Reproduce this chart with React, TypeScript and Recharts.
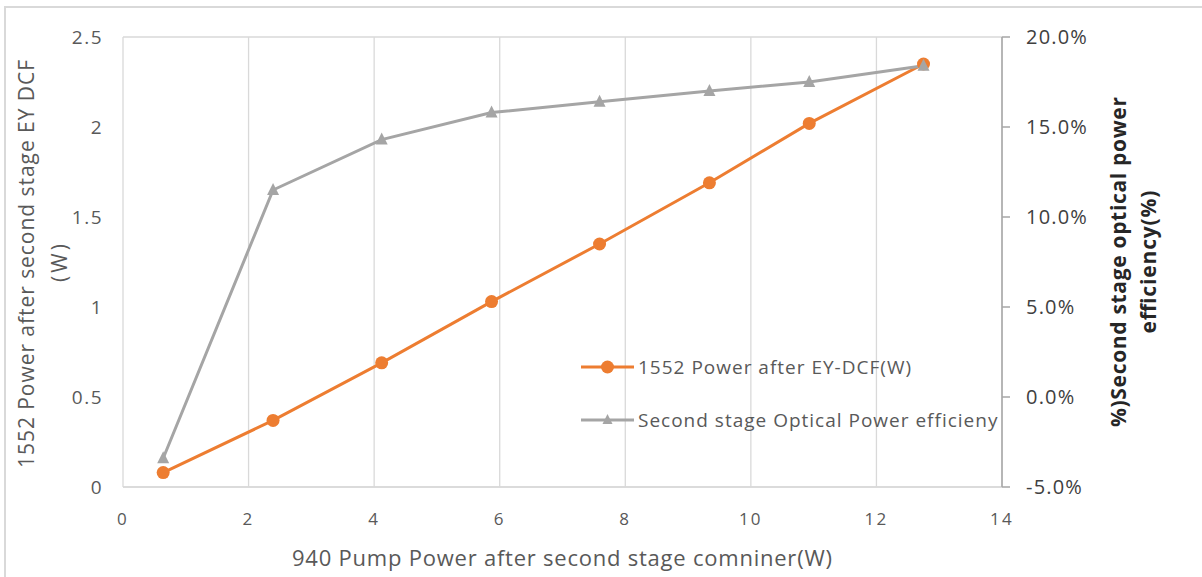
import { LineChart, Line, XAxis, YAxis, CartesianGrid, Legend, Label } from 'recharts';

// values
const pumpPower = [0.64, 2.39, 4.12, 5.87, 7.59, 9.34, 10.93, 12.75];
const outputPower = [0.08, 0.37, 0.69, 1.03, 1.35, 1.69, 2.02, 2.35];
const efficiency = [-3.4, 11.5, 14.3, 15.8, 16.4, 17.0, 17.5, 18.4];

const xTicks = [0, 2, 4, 6, 8, 10, 12, 14];
const leftTicks = [0, 0.5, 1, 1.5, 2, 2.5];
const rightTicks = [-5, 0, 5, 10, 15, 20];

const powerName = '1552 Power after EY-DCF(W)';
const effName = 'Second stage Optical Power efficieny';

const data = pumpPower.map((pump, i) => ({
  pump,
  power: outputPower[i],
  eff: efficiency[i],
}));

const FONT = '"Open Sans", Lato, sans-serif';
const ORANGE = '#ED7D31';
const GREY = '#A5A5A5';

const triangle = (cx: number, cy: number, s = 6) =>
  `M${cx},${cy - s - 1} L${cx + s},${cy + s - 1} L${cx - s},${cy + s - 1} Z`;

function TriangleDot(props: any) {
  const { cx, cy, index } = props;
  if (cx == null || cy == null) return <g key={`t-${index}`} />;
  return <path key={`t-${index}`} d={triangle(cx, cy)} fill={GREY} />;
}

function LegendBox(props: any) {
  const payload = props.payload ?? [];
  return (
    <div style={{ fontFamily: FONT, fontSize: 19, color: '#595959', letterSpacing: 1 }}>
      {payload.map((entry: any) => {
        const isEff = entry.dataKey === 'eff';
        return (
          <div
            key={entry.dataKey}
            style={{ display: 'flex', alignItems: 'center', height: 53, whiteSpace: 'nowrap' }}
          >
            <svg width={56} height={20} style={{ marginRight: 2 }}>
              <line x1={1} y1={10} x2={54} y2={10} stroke={isEff ? GREY : ORANGE} strokeWidth={3} />
              {isEff ? (
                <path d={triangle(27.5, 10, 5)} fill={GREY} />
              ) : (
                <circle cx={27.5} cy={10} r={6.5} fill={ORANGE} />
              )}
            </svg>
            <span>{entry.value}</span>
          </div>
        );
      })}
    </div>
  );
}

export default function App() {
  return (
    <div
      style={{
        position: 'absolute',
        left: 0,
        top: 0,
        width: 1202,
        height: 577,
        overflow: 'hidden',
        background: '#fff',
      }}
    >
      <div
        style={{
          position: 'absolute',
          left: 4,
          top: 6,
          width: 1220,
          height: 600,
          border: '2px solid #d9d9d9',
        }}
      />
      <div style={{ position: 'absolute', left: 0, top: 0 }}>
        <LineChart
          width={1202}
          height={577}
          data={data}
          margin={{ top: 37, right: 0, bottom: 0, left: 0 }}
          style={{ fontFamily: FONT }}
        >
          <CartesianGrid stroke="#d9d9d9" strokeWidth={1.3} />
          <XAxis
            type="number"
            dataKey="pump"
            domain={[0, 14]}
            ticks={xTicks}
            height={90}
            axisLine={{ stroke: '#d9d9d9', strokeWidth: 1.5 }}
            tickLine={false}
            tickMargin={20}
            tick={{ fill: '#595959', fontSize: 17, letterSpacing: 2.2 }}
          >
            <Label
              content={() => (
                <text
                  x={562}
                  y={566}
                  textAnchor="middle"
                  fill="#595959"
                  fontSize={22}
                  fontFamily={FONT}
                  textLength={540}
                  lengthAdjust="spacing"
                >
                  940 Pump Power after second stage comniner(W)
                </text>
              )}
            />
          </XAxis>
          <YAxis
            yAxisId="left"
            domain={[0, 2.5]}
            ticks={leftTicks}
            width={123}
            axisLine={false}
            tickLine={false}
            tickMargin={14}
            tick={{ fill: '#595959', fontSize: 19, letterSpacing: 1.5 }}
          >
            <Label
              content={() => (
                <g fill="#595959" fontSize={21} fontFamily={FONT}>
                  <text
                    x={34}
                    y={264}
                    textAnchor="middle"
                    transform="rotate(-90, 34, 264)"
                    textLength={408}
                    lengthAdjust="spacing"
                  >
                    1552 Power after second stage EY DCF
                  </text>
                  <text
                    x={67}
                    y={263}
                    textAnchor="middle"
                    transform="rotate(-90, 67, 263)"
                    textLength={38}
                    lengthAdjust="spacing"
                  >
                    (W)
                  </text>
                </g>
              )}
            />
          </YAxis>
          <YAxis
            yAxisId="right"
            orientation="right"
            domain={[-5, 20]}
            ticks={rightTicks}
            width={200}
            axisLine={{ stroke: '#a6a6a6', strokeWidth: 1.5 }}
            tickLine={{ stroke: '#a6a6a6', strokeWidth: 1.5 }}
            tickSize={8}
            tickMargin={16}
            tick={{ fill: '#404040', fontSize: 20, letterSpacing: 1.2 }}
            tickFormatter={(v: number) => `${v.toFixed(1)}%`}
          >
            <Label
              content={() => (
                <g fill="#262626" fontSize={21} fontWeight="bold" fontFamily={FONT}>
                  <text
                    x={1126}
                    y={262}
                    textAnchor="middle"
                    transform="rotate(-90, 1126, 262)"
                    textLength={330}
                    lengthAdjust="spacing"
                  >
                    %)Second stage optical power
                  </text>
                  <text
                    x={1156}
                    y={262}
                    textAnchor="middle"
                    transform="rotate(-90, 1156, 262)"
                    textLength={143}
                    lengthAdjust="spacing"
                  >
                    efficiency(%)
                  </text>
                </g>
              )}
            />
          </YAxis>
          <Legend
            layout="vertical"
            align="center"
            verticalAlign="middle"
            content={<LegendBox />}
            wrapperStyle={{ position: 'absolute', left: 580, top: 340, width: 440 }}
          />
          <Line
            yAxisId="left"
            dataKey="power"
            name={powerName}
            stroke={ORANGE}
            strokeWidth={3}
            dot={{ r: 6.5, fill: ORANGE, stroke: ORANGE, strokeWidth: 0 }}
            activeDot={false}
            isAnimationActive={false}
          />
          <Line
            yAxisId="right"
            dataKey="eff"
            name={effName}
            stroke={GREY}
            strokeWidth={3}
            dot={TriangleDot}
            activeDot={false}
            isAnimationActive={false}
          />
        </LineChart>
      </div>
    </div>
  );
}
